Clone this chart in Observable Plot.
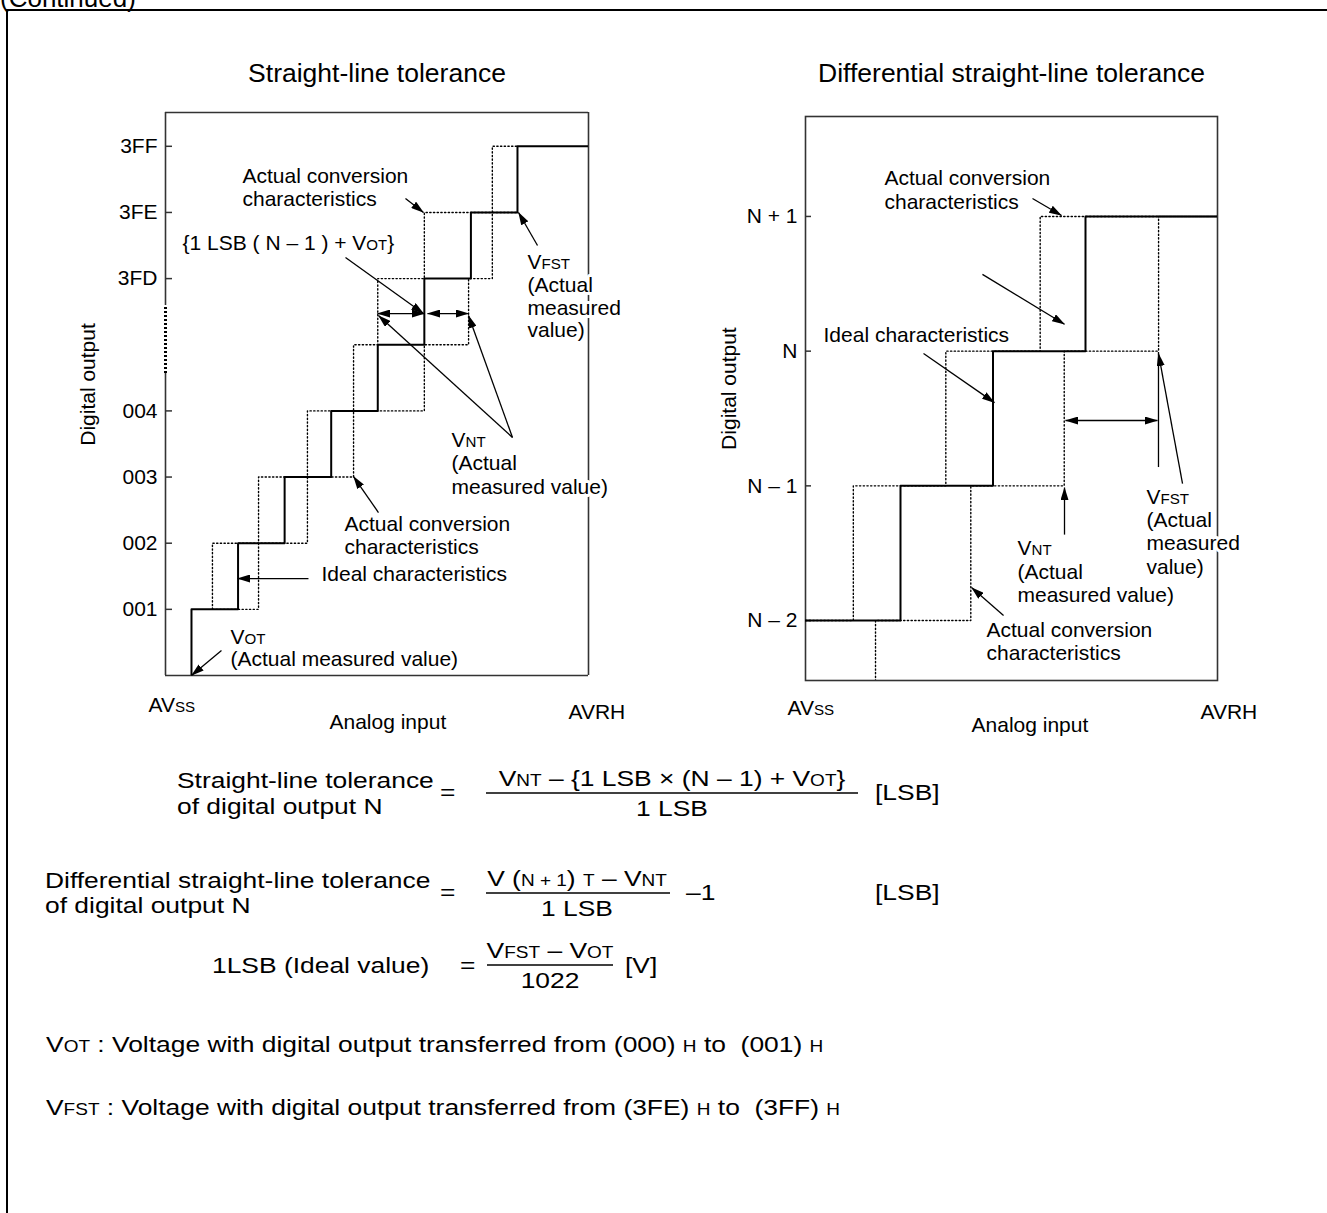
<!DOCTYPE html>
<html>
<head>
<meta charset="utf-8">
<script src="https://cdn.jsdelivr.net/npm/d3@7"></script>
<script src="https://cdn.jsdelivr.net/npm/@observablehq/plot@0.6"></script>
<style>
  html, body { margin: 0; padding: 0; background: #fff; }
  #page { position: relative; width: 1327px; height: 1213px; overflow: hidden; background: #fff;
          font-family: "Liberation Sans", Arial, Helvetica, sans-serif; }
  #notes { position: absolute; left: 0; top: 0; white-space: pre; }
  #notes text, #notes tspan { white-space: pre; }
  #left { position: absolute; left: 0; top: 0; width: 660px; height: 760px; }
  #right { position: absolute; left: 660px; top: 0; width: 667px; height: 760px; }
</style>
</head>
<body>
<div id="page">
  <svg id="notes" width="1327" height="1213" xmlns="http://www.w3.org/2000/svg"></svg>
  <div id="left"></div>
  <div id="right"></div>
</div>
<script>
// ================= DATA =================
// Left chart: Straight-line tolerance (x in LSB steps, y in output codes)
const leftTickLevels = [1, 2, 3, 4, 6, 7, 8];
const leftTickLabels = ["001", "002", "003", "004", "3FD", "3FE", "3FF"];
const leftIdealTransitions = [0, 1, 2, 3, 4, 5, 6, 7];
const leftEarlyTransitions = [0.45, 1.44, 2.49, 3.48, 4.0, 5.0, 6.46];
const leftLateTransitions = [1.44, 2.49, 3.48, 5.0, 5.95, 6.46];
const leftActualStartX = 0.45;
const leftActualEndX = 7;
const leftAxisBreak = [4.565, 5.593];
const leftXDomain = [-0.558, 8.525];
const leftYDomain = [0, 8.511];

// Right chart: Differential straight-line tolerance
const rightTickLevels = [0, 1, 2, 3];
const rightTickLabels = ["N – 2", "N – 1", "N", "N + 1"];
const rightIdealTransitions = [1, 2, 3];
const rightEarlyTransitions = [0.49, 1.49, 2.51];
const rightLateTransitions = [0.73, 1.76, 2.77, 3.79];
const rightXDomain = [-0.027, 4.427];
const rightYDomain = [-0.445, 3.742];

// Annotations (data coordinates)
const leftNotes = [
  {x: 1.095, y: 7.543, t: "Actual conversion"},
  {x: 1.095, y: 7.196, t: "characteristics"},
  {x: -0.193, y: 6.531, t: "{1 LSB ( N – 1 ) + V_{OT}}"},
  {x: 7.215, y: 6.243, t: "V_{FST}"},
  {x: 7.215, y: 5.896, t: "(Actual"},
  {x: 7.215, y: 5.548, t: "measured"},
  {x: 7.215, y: 5.215, t: "value)"},
  {x: 5.583, y: 3.553, t: "V_{NT}"},
  {x: 5.583, y: 3.205, t: "(Actual"},
  {x: 5.583, y: 2.842, t: "measured value)"},
  {x: 3.285, y: 2.283, t: "Actual conversion"},
  {x: 3.285, y: 1.935, t: "characteristics"},
  {x: 2.791, y: 1.527, t: "Ideal characteristics"},
  {x: 0.837, y: 0.574, t: "V_{OT}"},
  {x: 0.837, y: 0.242, t: "(Actual measured value)"}
];
const leftArrows = [
  {x1: 4.595, y1: 7.211, x2: 4.982, y2: 7.0},
  {x1: 3.307, y1: 6.319, x2: 4.982, y2: 5.472},
  {x1: 7.43, y1: 6.5, x2: 7.022, y2: 7.0},
  {x1: 6.893, y1: 3.598, x2: 4.015, y2: 5.442},
  {x1: 6.893, y1: 3.598, x2: 5.948, y2: 5.442},
  {x1: 4.015, y1: 2.464, x2: 3.479, y2: 3.008},
  {x1: 2.512, y1: 1.466, x2: 0.988, y2: 1.466},
  {x1: 0.644, y1: 0.378, x2: 0.0, y2: 0.0}
];
const leftDoubleArrows = [
  {x1: 3.994, y1: 5.472, x2: 5.003, y2: 5.472},
  {x1: 5.068, y1: 5.472, x2: 5.948, y2: 5.472}
];
const leftAxisTexts = [
  {x: -0.923, y: -0.454, t: "AV_{SS}"},
  {x: 2.963, y: -0.711, t: "Analog input"},
  {x: 8.095, y: -0.559, t: "AVRH"}
];

const rightNotes = [
  {x: 0.827, y: 3.281, t: "Actual conversion"},
  {x: 0.827, y: 3.103, t: "characteristics"},
  {x: 0.168, y: 2.116, t: "Ideal characteristics"},
  {x: 3.659, y: 0.913, t: "V_{FST}"},
  {x: 3.659, y: 0.742, t: "(Actual"},
  {x: 3.659, y: 0.572, t: "measured"},
  {x: 3.659, y: 0.393, t: "value)"},
  {x: 2.265, y: 0.535, t: "V_{NT}"},
  {x: 2.265, y: 0.356, t: "(Actual"},
  {x: 2.265, y: 0.186, t: "measured value)"},
  {x: 1.93, y: -0.074, t: "Actual conversion"},
  {x: 1.93, y: -0.245, t: "characteristics"}
];
const rightArrows = [
  {x1: 2.427, y1: 3.133, x2: 2.741, y2: 3.007},
  {x1: 1.886, y1: 2.57, x2: 2.773, y2: 2.2},
  {x1: 1.249, y1: 1.982, x2: 2.016, y2: 1.618},
  {x1: 4.049, y1: 1.017, x2: 3.789, y2: 1.982},
  {x1: 2.773, y1: 0.638, x2: 2.773, y2: 0.987},
  {x1: 2.114, y1: 0.037, x2: 1.768, y2: 0.245}
];
const rightDoubleArrows = [
  {x1: 2.784, y1: 1.485, x2: 3.778, y2: 1.485}
];
const rightWitness = [{x: 3.789, y1: 1.136, y2: 1.99}];
const rightAxisTexts = [
  {x: -0.222, y: -0.653, t: "AV_{SS}"},
  {x: 1.768, y: -0.78, t: "Analog input"},
  {x: 4.243, y: -0.683, t: "AVRH"}
];

// ================= HELPERS =================
const FONT = '"Liberation Sans", Arial, Helvetica, sans-serif';
const NS = "http://www.w3.org/2000/svg";
const BOX = "#333";

function stairs(transitions, startLevel, x0, xEnd) {
  const pts = [{x: x0, y: startLevel}];
  let lvl = startLevel;
  for (const t of transitions) {
    pts.push({x: t, y: lvl});
    lvl += 1;
    pts.push({x: t, y: lvl});
  }
  pts.push({x: xEnd, y: lvl});
  return pts;
}

function appendSpan(el, s, small) {
  const t = document.createElementNS(NS, "tspan");
  t.textContent = s;
  if (small) t.setAttribute("font-size", "0.72em");
  el.appendChild(t);
}
function richify(el, str) {
  while (el.firstChild) el.removeChild(el.firstChild);
  const re = /_\{(.*?)\}/g;
  let last = 0, m;
  while ((m = re.exec(str))) {
    if (m.index > last) appendSpan(el, str.slice(last, m.index), false);
    appendSpan(el, m[1], true);
    last = re.lastIndex;
  }
  if (last < str.length) appendSpan(el, str.slice(last), false);
}
function postProcess(svg, markerId) {
  const defs = document.createElementNS(NS, "defs");
  defs.innerHTML = `<marker id="${markerId}" viewBox="0 0 13 8" refX="12.5" refY="4" markerWidth="13" markerHeight="8" markerUnits="userSpaceOnUse" orient="auto-start-reverse"><path d="M0,0 L13,4 L0,8 Z" fill="#000"/></marker>`;
  svg.insertBefore(defs, svg.firstChild);
  const links = svg.querySelectorAll('g[aria-label="link"]');
  if (links[0]) links[0].querySelectorAll("path").forEach(p => p.setAttribute("marker-end", `url(#${markerId})`));
  if (links[1]) links[1].querySelectorAll("path").forEach(p => {
    p.setAttribute("marker-end", `url(#${markerId})`);
    p.setAttribute("marker-start", `url(#${markerId})`);
  });
  svg.querySelectorAll("text").forEach(el => {
    const s = el.textContent;
    if (s.includes("_{")) richify(el, s);
  });
}

const textOpts = {x: "x", y: "y", text: "t", textAnchor: "start", fontSize: 21, fill: "#000",
                  stroke: "white", strokeWidth: 6, paintOrder: "stroke"};

// ================= LEFT CHART =================
const [lx0, lx1] = leftXDomain, [ly0, ly1] = leftYDomain;
const leftPlot = Plot.plot({
  width: 660, height: 760,
  marginLeft: 165, marginRight: 72, marginTop: 112, marginBottom: 85,
  x: {domain: leftXDomain, axis: null},
  y: {domain: leftYDomain, axis: null},
  style: {background: "transparent", overflow: "visible", fontFamily: FONT, fontSize: "21px", color: "#000"},
  marks: [
    Plot.ruleY([ly0, ly1], {y: d => d, x1: lx0, x2: lx1, stroke: BOX, strokeWidth: 1.6}),
    Plot.ruleX([lx1], {x: d => d, y1: ly0, y2: ly1, stroke: BOX, strokeWidth: 1.6}),
    Plot.ruleX([[ly0, leftAxisBreak[0]], [leftAxisBreak[1], ly1]], {x: lx0, y1: d => d[0], y2: d => d[1], stroke: BOX, strokeWidth: 1.6}),
    Plot.ruleX([leftAxisBreak], {x: lx0, y1: d => d[0], y2: d => d[1], stroke: "#000", strokeWidth: 3, strokeDasharray: "2,2"}),
    Plot.ruleY(leftTickLevels, {y: d => d, x1: lx0, x2: lx0 + 0.15, stroke: BOX, strokeWidth: 1.5}),
    Plot.text(leftTickLevels, {x: lx0, y: d => d, text: (d, i) => leftTickLabels[i], textAnchor: "end", dx: -8, fontSize: 21}),
    Plot.line(stairs(leftEarlyTransitions, 1, leftActualStartX, leftActualEndX), {x: "x", y: "y", stroke: "#000", strokeWidth: 1.4, strokeDasharray: "1.3,2.4", clip: true}),
    Plot.line(stairs(leftLateTransitions, 1, leftActualStartX, leftActualEndX), {x: "x", y: "y", stroke: "#000", strokeWidth: 1.4, strokeDasharray: "1.3,2.4", clip: true}),
    Plot.line(stairs(leftIdealTransitions, 0, 0, lx1), {x: "x", y: "y", stroke: "#000", strokeWidth: 2, clip: true}),
    Plot.link(leftArrows, {x1: "x1", y1: "y1", x2: "x2", y2: "y2", stroke: "#000", strokeWidth: 1.3}),
    Plot.link(leftDoubleArrows, {x1: "x1", y1: "y1", x2: "x2", y2: "y2", stroke: "#000", strokeWidth: 1.3}),
    Plot.text(leftNotes, textOpts),
    Plot.text(leftAxisTexts, {...textOpts, stroke: null}),
    Plot.text(["Digital output"], {x: -2.212, y: 4.399, text: d => d, rotate: -90, fontSize: 21}),
    Plot.text(["Straight-line tolerance"], {x: (lx0 + lx1) / 2, y: 9.101, text: d => d, fontSize: 26.5})
  ]
});
postProcess(leftPlot, "ahL");
document.getElementById("left").appendChild(leftPlot);

// ================= RIGHT CHART =================
const [rx0, rx1] = rightXDomain, [ry0, ry1] = rightYDomain;
const rightPlot = Plot.plot({
  width: 667, height: 760,
  marginLeft: 145, marginRight: 110, marginTop: 116, marginBottom: 80,
  x: {domain: rightXDomain, axis: null},
  y: {domain: rightYDomain, axis: null},
  style: {background: "transparent", overflow: "visible", fontFamily: FONT, fontSize: "21px", color: "#000"},
  marks: [
    Plot.frame({stroke: BOX, strokeWidth: 1.6}),
    Plot.ruleY(rightTickLevels, {y: d => d, x1: rx0, x2: rx0 + 0.065, stroke: BOX, strokeWidth: 1.5}),
    Plot.text(rightTickLevels, {x: rx0, y: d => d, text: (d, i) => rightTickLabels[i], textAnchor: "end", dx: -8, fontSize: 21}),
    Plot.line(stairs(rightEarlyTransitions, 0, rx0, rx1), {x: "x", y: "y", stroke: "#000", strokeWidth: 1.4, strokeDasharray: "1.3,2.4", clip: true}),
    Plot.line(stairs(rightLateTransitions, -1, rightLateTransitions[0], rx1), {x: "x", y: "y", stroke: "#000", strokeWidth: 1.4, strokeDasharray: "1.3,2.4", clip: true}),
    Plot.line(stairs(rightIdealTransitions, 0, rx0, rx1), {x: "x", y: "y", stroke: "#000", strokeWidth: 2, clip: true}),
    Plot.link(rightArrows, {x1: "x1", y1: "y1", x2: "x2", y2: "y2", stroke: "#000", strokeWidth: 1.3}),
    Plot.link(rightDoubleArrows, {x1: "x1", y1: "y1", x2: "x2", y2: "y2", stroke: "#000", strokeWidth: 1.3}),
    Plot.ruleX(rightWitness, {x: "x", y1: "y1", y2: "y2", stroke: "#000", strokeWidth: 1.3}),
    Plot.text(rightNotes, textOpts),
    Plot.text(rightAxisTexts, {...textOpts, stroke: null}),
    Plot.text(["Digital output"], {x: -0.849, y: 1.722, text: d => d, rotate: -90, fontSize: 21}),
    Plot.text(["Differential straight-line tolerance"], {x: (rx0 + rx1) / 2, y: 4.061, text: d => d, fontSize: 26.5})
  ]
});
postProcess(rightPlot, "ahR");
document.getElementById("right").appendChild(rightPlot);

// ================= PAGE FRAME & FORMULAS =================
const notes = document.getElementById("notes");
const SX = 1.2;   // formula text in the source is horizontally widened
function addText(str, x, y, size, anchor, stretch) {
  const el = document.createElementNS(NS, "text");
  el.setAttribute("x", x);
  el.setAttribute("y", y);
  el.setAttribute("font-size", size);
  el.setAttribute("font-family", FONT);
  el.setAttribute("text-anchor", anchor || "start");
  el.setAttribute("fill", "#000");
  richify(el, str);
  notes.appendChild(el);
  const s = stretch == null ? SX : stretch;
  if (s !== 1) {
    const len = el.getComputedTextLength();
    el.setAttribute("textLength", (len * s).toFixed(1));
    el.setAttribute("lengthAdjust", "spacingAndGlyphs");
  }
  return el;
}
function addLine(x1, y1, x2, y2, w) {
  const el = document.createElementNS(NS, "line");
  el.setAttribute("x1", x1); el.setAttribute("y1", y1);
  el.setAttribute("x2", x2); el.setAttribute("y2", y2);
  el.setAttribute("stroke", "#000"); el.setAttribute("stroke-width", w || 1.5);
  notes.appendChild(el);
}
const framePath = document.createElementNS(NS, "path");
framePath.setAttribute("d", "M7,1213 V10 H1327");
framePath.setAttribute("fill", "none");
framePath.setAttribute("stroke", "#000");
framePath.setAttribute("stroke-width", 2);
notes.appendChild(framePath);
addText("(Continued)", 0, 7, 26, "start", 1);

const FS = 22;
// Row 1
addText("Straight-line tolerance", 177, 788, FS);
addText("of digital output N", 177, 814, FS);
addText("=", 440, 800, FS);
addText("V_{NT} – {1 LSB × (N – 1) + V_{OT}}", 672, 786, FS, "middle");
addLine(486, 793, 858, 793);
addText("1 LSB", 672, 816, FS, "middle");
addText("[LSB]", 875, 800, FS);
// Row 2
addText("Differential straight-line tolerance", 45, 888, FS);
addText("of digital output N", 45, 913, FS);
addText("=", 440, 900, FS);
addText("V (_{N + 1}) _{T} – V_{NT}", 577, 886, FS, "middle");
addLine(486, 893, 670, 893);
addText("1 LSB", 577, 916, FS, "middle");
addText("–1", 686, 900, FS);
addText("[LSB]", 875, 900, FS);
// Row 3
addText("1LSB (Ideal value)", 212, 973, FS);
addText("=", 460, 973, FS);
addText("V_{FST} – V_{OT}", 550, 958, FS, "middle");
addLine(487, 965, 613, 965);
addText("1022", 550, 988, FS, "middle");
addText("[V]", 625, 973, FS);
// Definitions
addText("V_{OT} : Voltage with digital output transferred from (000) _{H} to  (001) _{H}", 46, 1052, FS);
addText("V_{FST} : Voltage with digital output transferred from (3FE) _{H} to  (3FF) _{H}", 46, 1115, FS);
</script>
</body>
</html>
